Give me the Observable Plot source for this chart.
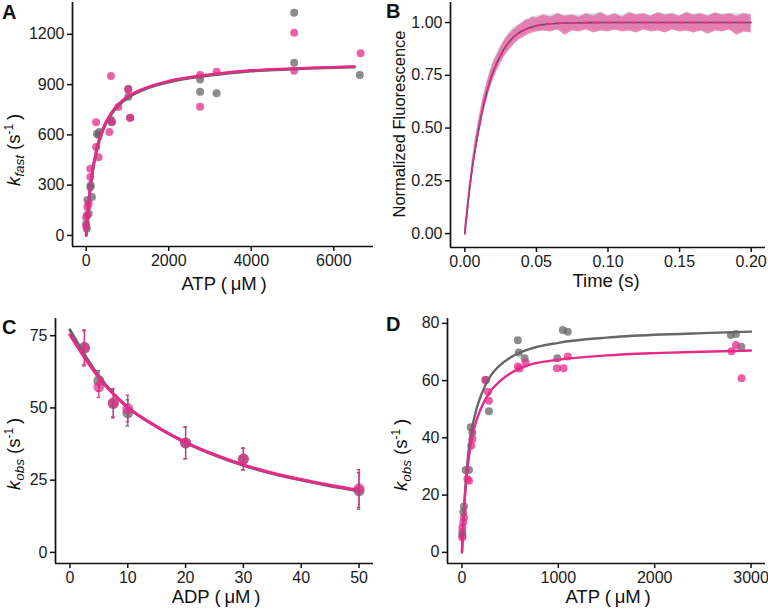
<!DOCTYPE html>
<html><head><meta charset="utf-8">
<script src="https://cdn.jsdelivr.net/npm/d3@7"></script>
<script src="https://cdn.jsdelivr.net/npm/@observablehq/plot@0.6"></script>
<style>
html,body{margin:0;padding:0;background:#fff;}
#wrap{position:relative;width:768px;height:612px;overflow:hidden;background:#fff;}
.panel{position:absolute;}
</style></head><body><div id="wrap"></div>
<script>
// ---------- Panel A: k_fast vs ATP ----------
const aGrayX = [5040, 5040, 2760, 2760, 3160, 6630, 1020, 1020, 600, 620, 260, 320, 300, 100, 140, 110, 60, 30, 0, 15, 1065];
const aGrayY = [1329, 1031, 931, 858, 848, 957, 876, 828, 690, 676, 607, 617, 600, 288, 229, 300, 129, 211, 70, 40, 703];
const aPinkX = [5040, 5040, 6650, 3160, 2760, 2760, 600, 1065, 1020, 780, 560, 620, 240, 240, 300, 100, 100, 30, 0, 0, 20, 60];
const aPinkY = [1210, 983, 1087, 977, 957, 768, 951, 703, 870, 766, 617, 679, 676, 527, 467, 398, 348, 169, 109, 55, 120, 190];
const aFitX = [0, 25, 50, 100, 150, 250, 400, 600, 800, 1000, 1500, 2000, 3000, 4000, 5000, 6500];
const aFitPink = [0, 93, 170, 292, 382, 514, 634, 729, 788, 828, 886, 921, 960, 985, 996, 1008];
const aFitGray = [0, 90, 165, 285, 374, 505, 625, 720, 780, 820, 880, 916, 956, 981, 993, 1005];
const aXTicks = [0, 2000, 4000, 6000];
const aYTicks = [0, 300, 600, 900, 1200];

// ---------- Panel B: normalized fluorescence traces ----------
const bT = [0,0.0025,0.005,0.0075,0.01,0.0125,0.015,0.0175,0.02,0.0225,0.025,0.0275,0.03,0.0325,0.035,0.0375,0.04,0.0425,0.045,0.0475,0.05,
  0.055,0.06,0.065,0.07,0.075,0.08,0.085,0.09,0.095,0.1,0.105,0.11,0.115,0.12,0.125,0.13,0.135,0.14,0.145,0.15,0.155,0.16,0.165,0.17,0.175,0.18,0.185,0.19,0.195,0.2];
const bPinkHi = [0.03,0.19,0.33,0.45,0.545,0.63,0.70,0.76,0.81,0.845,0.88,0.91,0.935,0.955,0.97,0.985,0.995,1.01,1.015,1.025,1.02,
  1.035,1.025,1.04,1.03,1.035,1.025,1.04,1.03,1.045,1.03,1.04,1.025,1.045,1.035,1.04,1.03,1.045,1.035,1.04,1.03,1.045,1.035,1.04,1.03,1.045,1.035,1.04,1.03,1.04,1.035];
const bPinkLo = [-0.02,0.12,0.26,0.37,0.465,0.55,0.62,0.68,0.73,0.77,0.805,0.835,0.86,0.88,0.90,0.915,0.925,0.935,0.945,0.95,0.955,
  0.96,0.955,0.965,0.94,0.96,0.955,0.965,0.95,0.96,0.955,0.965,0.955,0.96,0.95,0.965,0.955,0.96,0.95,0.965,0.955,0.96,0.95,0.96,0.945,0.96,0.955,0.965,0.94,0.955,0.95];
const bGrayHi = [0.04,0.20,0.345,0.46,0.555,0.64,0.71,0.77,0.82,0.855,0.89,0.92,0.945,0.965,0.98,0.99,1.0,1.015,1.02,1.03,1.03,
  1.04,1.035,1.045,1.035,1.04,1.035,1.045,1.04,1.05,1.035,1.045,1.035,1.05,1.04,1.045,1.035,1.05,1.04,1.045,1.035,1.05,1.04,1.045,1.035,1.045,1.04,1.045,1.04,1.045,1.04];
const bGrayLo = [-0.01,0.13,0.27,0.38,0.475,0.56,0.63,0.69,0.74,0.78,0.815,0.845,0.87,0.89,0.91,0.925,0.935,0.945,0.955,0.96,0.96,
  0.965,0.965,0.97,0.955,0.965,0.965,0.97,0.96,0.965,0.965,0.97,0.965,0.965,0.96,0.97,0.965,0.965,0.96,0.97,0.965,0.965,0.96,0.965,0.955,0.965,0.965,0.97,0.955,0.96,0.96];
const bFitT = [0,0.0025,0.005,0.0075,0.01,0.0125,0.015,0.0175,0.02,0.0225,0.025,0.0275,0.03,0.0325,0.035,0.0375,0.04,0.0425,0.045,0.0475,0.05,0.055,0.06,0.065,0.07,0.08,0.1,0.15,0.2];
const bFitY = [0,0.16,0.30,0.41,0.505,0.59,0.66,0.72,0.77,0.81,0.845,0.875,0.90,0.92,0.937,0.95,0.96,0.968,0.975,0.98,0.985,0.99,0.994,0.996,0.998,0.999,1,1,1];
const bXTicks = [0, 0.05, 0.10, 0.15, 0.20];
const bYTicks = [0, 0.25, 0.5, 0.75, 1];

// ---------- Panel C: k_obs vs ADP ----------
const cX = [2.5, 5, 7.5, 10, 20, 30, 50];
const cGrayMean = [71.0, 59.4, 51.5, 48.3, 37.9, 32.3, 21.3];
const cGrayErr  = [6.0, 3.5, 5.0, 4.5, 5.5, 3.8, 6.3];
const cPinkMean = [70.6, 57.3, 51.8, 49.8, 37.9, 32.3, 22.1];
const cPinkErr  = [6.1, 3.6, 4.9, 4.6, 5.5, 3.8, 6.5];
const cFitX = [0, 2.5, 5, 7.5, 10, 15, 20, 25, 30, 35, 40, 45, 50];
const cFitGray = [77, 68.5, 61, 55, 50.2, 43.5, 38, 33.7, 30.1, 27.3, 25.0, 23.0, 21.3];
const cFitPink = [75.3, 67.5, 60.5, 54.8, 50.2, 43.5, 38.1, 33.8, 30.3, 27.5, 25.2, 23.2, 21.5];
const cXTicks = [0, 10, 20, 30, 40, 50];
const cYTicks = [0, 25, 50, 75];

// ---------- Panel D: k_obs vs ATP ----------
const dGrayX = [580, 590, 650, 990, 1047, 1098, 2790, 2843, 2900, 280, 250, 90, 108, 38, 73, 21, 14, 4, 4];
const dGrayY = [74.1, 69.8, 67.8, 67.8, 77.7, 77.1, 75.9, 76.3, 71.8, 49.3, 60.2, 43.7, 41.9, 28.8, 28.8, 16.0, 14.0, 7.0, 6.0];
const dPinkX = [580, 598, 660, 985, 1054, 1098, 2798, 2843, 2902, 242, 269, 280, 97, 108, 56, 73, 21, 14, 4, 4];
const dPinkY = [64.9, 64.2, 66.3, 64.3, 64.3, 68.4, 70.3, 72.4, 60.8, 60.2, 56.1, 53.0, 37.3, 39.6, 25.6, 25.0, 12.2, 10.5, 8.7, 5.2];
const dFitX = [0, 15, 30, 50, 75, 100, 150, 200, 300, 400, 500, 700, 1000, 1500, 2000, 2500, 3000];
const dFitGray = [0, 11, 20, 29, 37, 42.5, 50, 55, 61.8, 65.5, 68, 71, 73.2, 75, 76, 76.6, 77.1];
const dFitPink = [0, 10, 19, 27, 34, 39.5, 46, 50.5, 56.5, 60, 62.5, 65.5, 67.3, 68.8, 69.6, 70.1, 70.5];
const dXTicks = [0, 1000, 2000, 3000];
const dYTicks = [0, 20, 40, 60, 80];

// ---------- styling ----------
const GRAY = "#666666", PINK = "#e7298a", INK = "#111111";
const FONT = '"Liberation Sans", Arial, Helvetica, sans-serif';
const wrap = document.getElementById("wrap");

const pts = (xs, ys) => xs.map((x, i) => ({x, y: ys[i]}));

function axes(xTicks, yTicks, xfmt, yfmt, xdom, ydom) {
  return [
    Plot.ruleX([xdom[0]], {stroke: INK, strokeWidth: 1.7}),
    Plot.ruleY([ydom[0]], {stroke: INK, strokeWidth: 1.7}),
    Plot.axisX({ticks: xTicks, tickFormat: xfmt, tickSize: 5, tickPadding: 3, label: null, color: INK, fill: "#1a1a1a", strokeWidth: 1.5, fontSize: 16}),
    Plot.axisY({ticks: yTicks, tickFormat: yfmt, tickSize: 5, tickPadding: 3, label: null, color: INK, fill: "#1a1a1a", strokeWidth: 1.5, fontSize: 16})
  ];
}

function place(svg, left, top) {
  const div = document.createElement("div");
  div.className = "panel";
  div.style.left = left + "px";
  div.style.top = top + "px";
  div.appendChild(svg);
  wrap.appendChild(div);
}

function addText(svg, x, y, parts, opts = {}) {
  const t = d3.select(svg).append("text")
    .attr("transform", `translate(${x},${y})` + (opts.rotate ? " rotate(-90)" : ""))
    .attr("text-anchor", opts.anchor || "middle")
    .attr("font-family", FONT)
    .attr("font-size", opts.size || 18.5)
    .attr("font-weight", opts.bold ? "bold" : "normal")
    .attr("fill", INK);
  parts.forEach(p => {
    const s = t.append("tspan").text(p.t);
    if (p.i) s.attr("font-style", "italic");
    if (p.s) s.attr("font-size", p.s);
    if (p.dy) s.attr("dy", p.dy);
  });
}

function plotBase(opts) {
  return Object.assign({
    width: 384, height: 306,
    style: {fontFamily: FONT, fontSize: "16px", background: "transparent", overflow: "visible"}
  }, opts);
}

const ATP_LABEL = [{t: "ATP ("}, {t: "\u2009μM\u2009"}, {t: ")"}];
const kLabel = sub => [{t: "k", i: 1}, {t: sub, i: 1, s: 13.5, dy: 4}, {t: " (s", dy: -4}, {t: "-1", s: 12, dy: -7}, {t: "\u2009)", dy: 7}];

// ---------- A ----------
{
  const xdom = [-332, 6962], ydom = [-66, 1390];
  const fitG = aFitX.map((x, i) => ({x, y: aFitGray[i]}));
  const fitP = aFitX.map((x, i) => ({x, y: aFitPink[i]}));
  const svg = Plot.plot(plotBase({
    marginLeft: 72, marginRight: 11, marginTop: 2, marginBottom: 60,
    x: {domain: xdom}, y: {domain: ydom},
    marks: [
      ...axes(aXTicks, aYTicks, d3.format("d"), d3.format("d"), xdom, ydom),
      Plot.dot(pts(aGrayX, aGrayY), {x: "x", y: "y", r: 4, fill: GRAY, fillOpacity: 0.75}),
      Plot.dot(pts(aPinkX, aPinkY), {x: "x", y: "y", r: 4, fill: PINK, fillOpacity: 0.75}),
      Plot.line(fitG, {x: "x", y: "y", stroke: GRAY, strokeWidth: 3, curve: "monotone-x"}),
      Plot.line(fitP, {x: "x", y: "y", stroke: PINK, strokeWidth: 2.6, curve: "monotone-x"})
    ]
  }));
  addText(svg, 2, 19, [{t: "A"}], {anchor: "start", bold: true, size: 20});
  addText(svg, 224, 290, ATP_LABEL);
  addText(svg, 20, 150, kLabel("fast"), {rotate: true});
  place(svg, 0, 0);
}

// ---------- B ----------
{
  const xdom = [-0.01, 0.21], ydom = [-0.066, 1.095];
  const gray = bT.map((t, i) => ({t, lo: bGrayLo[i], hi: bGrayHi[i]}));
  const pink = bT.map((t, i) => ({t, lo: bPinkLo[i], hi: bPinkHi[i]}));
  const fit = bFitT.map((t, i) => ({t, y: bFitY[i]}));
  const svg = Plot.plot(plotBase({
    marginLeft: 66, marginRight: 3, marginTop: 2, marginBottom: 59,
    x: {domain: xdom}, y: {domain: ydom},
    marks: [
      ...axes(bXTicks, bYTicks, d3.format(".2f"), d3.format(".2f"), xdom, ydom),
      Plot.areaY(gray, {x: "t", y1: "lo", y2: "hi", fill: "#a0a0a0", fillOpacity: 0.4}),
      Plot.areaY(pink, {x: "t", y1: "lo", y2: "hi", fill: "#e45a9f", fillOpacity: 0.72}),
      Plot.line(fit, {x: "t", y: "y", stroke: "#555555", strokeWidth: 1.6, curve: "monotone-x"}),
      Plot.line(fit, {x: "t", y: "y", stroke: PINK, strokeWidth: 1.6, strokeDasharray: "7,5", curve: "monotone-x"})
    ]
  }));
  addText(svg, 2, 18, [{t: "B"}], {anchor: "start", bold: true, size: 20});
  addText(svg, 222, 287, [{t: "Time (s)"}]);
  addText(svg, 21, 124, [{t: "Normalized Fluorescence"}], {rotate: true, size: 16.5});
  place(svg, 384, 0);
}

// ---------- C ----------
{
  const xdom = [-2.5, 52.5], ydom = [-3.85, 80.95];
  const g = cX.map((x, i) => ({x, m: cGrayMean[i], e: cGrayErr[i]}));
  const p = cX.map((x, i) => ({x, m: cPinkMean[i], e: cPinkErr[i]}));
  const fitG = cFitX.map((x, i) => ({x, y: cFitGray[i]}));
  const fitP = cFitX.map((x, i) => ({x, y: cFitPink[i]}));
  const err = (rows, col) => [
    Plot.ruleX(rows, {x: "x", y1: d => d.m - d.e, y2: d => d.m + d.e, stroke: col, strokeWidth: 1.3}),
    Plot.ruleY(rows, {y: d => d.m + d.e, x1: d => d.x - 0.3, x2: d => d.x + 0.3, stroke: col, strokeWidth: 1.3}),
    Plot.ruleY(rows, {y: d => d.m - d.e, x1: d => d.x - 0.3, x2: d => d.x + 0.3, stroke: col, strokeWidth: 1.3})
  ];
  const svg = Plot.plot(plotBase({
    marginLeft: 55, marginRight: 11, marginTop: 12, marginBottom: 49,
    x: {domain: xdom}, y: {domain: ydom},
    marks: [
      ...axes(cXTicks, cYTicks, d3.format("d"), d3.format("d"), xdom, ydom),
      Plot.dot(g, {x: "x", y: "m", r: 5.5, fill: GRAY, fillOpacity: 0.75}),
      Plot.dot(p, {x: "x", y: "m", r: 5.5, fill: PINK, fillOpacity: 0.7}),
      ...err(g, GRAY),
      ...err(p, PINK),
      Plot.line(fitG, {x: "x", y: "y", stroke: GRAY, strokeWidth: 3, curve: "monotone-x"}),
      Plot.line(fitP, {x: "x", y: "y", stroke: PINK, strokeWidth: 3, curve: "monotone-x"})
    ]
  }));
  addText(svg, 2, 28, [{t: "C"}], {anchor: "start", bold: true, size: 20});
  addText(svg, 216, 297, [{t: "ADP ("}, {t: "\u2009μM\u2009"}, {t: ")"}]);
  addText(svg, 20, 148, kLabel("obs"), {rotate: true});
  place(svg, 0, 306);
}

// ---------- D ----------
{
  const xdom = [-150, 3150], ydom = [-3.89, 81.7];
  const fitG = dFitX.map((x, i) => ({x, y: dFitGray[i]}));
  const fitP = dFitX.map((x, i) => ({x, y: dFitPink[i]}));
  const svg = Plot.plot(plotBase({
    marginLeft: 63, marginRight: 3, marginTop: 12, marginBottom: 49,
    x: {domain: xdom}, y: {domain: ydom},
    marks: [
      ...axes(dXTicks, dYTicks, d3.format("d"), d3.format("d"), xdom, ydom),
      Plot.dot(pts(dGrayX, dGrayY), {x: "x", y: "y", r: 4, fill: GRAY, fillOpacity: 0.75}),
      Plot.dot(pts(dPinkX, dPinkY), {x: "x", y: "y", r: 4, fill: PINK, fillOpacity: 0.75}),
      Plot.line(fitG, {x: "x", y: "y", stroke: GRAY, strokeWidth: 2.4, curve: "monotone-x"}),
      Plot.line(fitP, {x: "x", y: "y", stroke: PINK, strokeWidth: 2.4, curve: "monotone-x"})
    ]
  }));
  addText(svg, 2, 25, [{t: "D"}], {anchor: "start", bold: true, size: 20});
  addText(svg, 224, 297, ATP_LABEL);
  addText(svg, 23, 149, kLabel("obs"), {rotate: true});
  place(svg, 384, 306);
}
</script>
</body></html>
